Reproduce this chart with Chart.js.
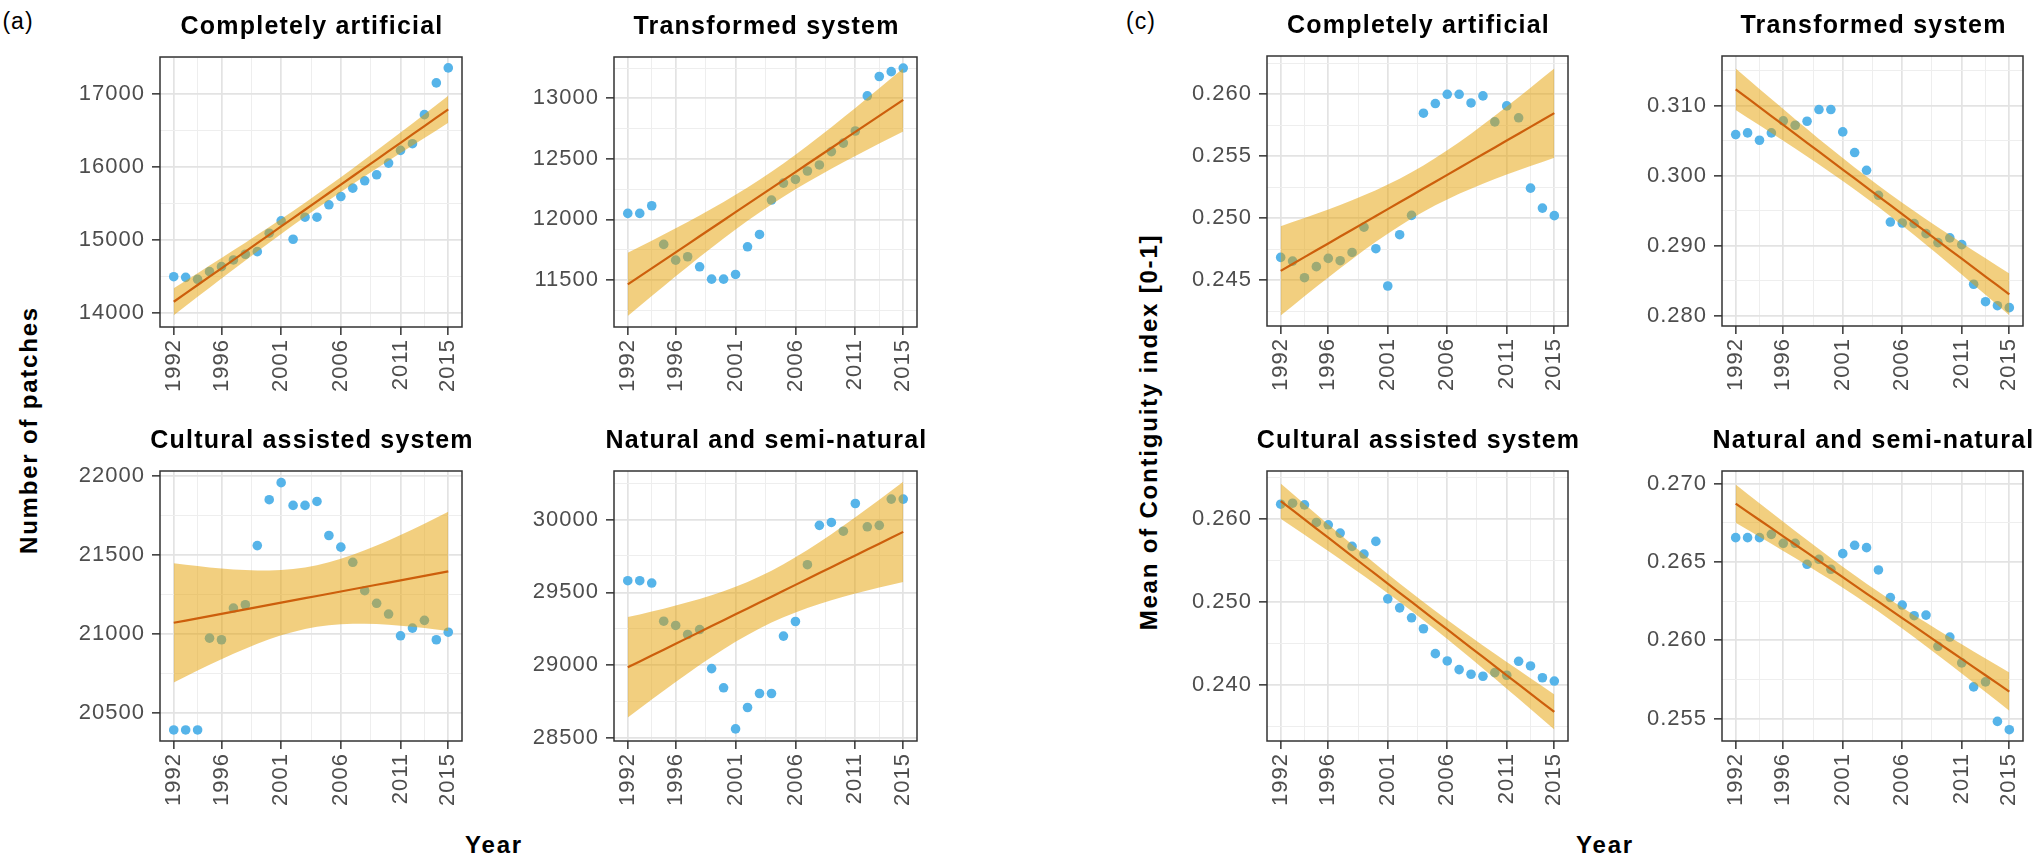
<!DOCTYPE html>
<html>
<head>
<meta charset="utf-8">
<script src="https://cdn.jsdelivr.net/npm/chart.js@4.4.1/dist/chart.umd.min.js"></script>
<style>
body{margin:0;width:2038px;height:860px;background:#fff;position:relative;overflow:hidden;font-family:"Liberation Sans",Arial,sans-serif}
canvas{position:absolute}
.lab{position:absolute;white-space:nowrap;transform:translate(-50%,-50%);color:#000;letter-spacing:1px}
.bold{font-weight:bold;font-size:24px;letter-spacing:1.8px}
</style>
</head>
<body>
<div class="lab" style="left:18px;top:21px;font-size:23px">(a)</div>
<div class="lab" style="left:1141px;top:21px;font-size:23px">(c)</div>
<div class="lab bold" style="left:29px;top:430px;transform:translate(-50%,-50%) rotate(-90deg)">Number of patches</div>
<div class="lab bold" style="left:1149px;top:432px;transform:translate(-50%,-50%) rotate(-90deg)">Mean of Contiguity index [0-1]</div>
<div class="lab bold" style="left:494px;top:845px">Year</div>
<div class="lab bold" style="left:1605px;top:845px">Year</div>

<script>
// ---- data ----
const years=[1992,1993,1994,1995,1996,1997,1998,1999,2000,2001,2002,2003,2004,2005,2006,2007,2008,2009,2010,2011,2012,2013,2014,2015];
const yearTicks=[1992,1996,2001,2006,2011,2015];

const artificialPatches=[14495,14486,14459,14564,14633,14725,14803,14839,15092,15261,15009,15312,15312,15482,15596,15711,15812,15894,16055,16229,16321,16720,17156,17362];
const transformedPatches=[12050,12050,12113,11794,11664,11692,11609,11507,11507,11546,11774,11876,12160,12300,12330,12400,12450,12560,12630,12730,13020,13180,13220,13250];
const culturalPatches=[20390,20390,20390,20972,20962,21163,21184,21559,21850,21958,21814,21814,21839,21623,21549,21453,21273,21193,21125,20987,21036,21085,20962,21010];
const naturalPatches=[29580,29580,29564,29302,29273,29211,29245,28977,28845,28563,28710,28806,28806,29200,29300,29690,29960,29980,29920,30110,29950,29960,30140,30140];

const artificialContig=[0.24683,0.24653,0.24519,0.24608,0.24675,0.24656,0.24723,0.24927,0.24753,0.24452,0.24866,0.25022,0.25847,0.25925,0.26000,0.26000,0.25930,0.25987,0.25777,0.25906,0.25810,0.25242,0.25081,0.25020];
const transformedContig=[0.30591,0.30615,0.30510,0.30615,0.30786,0.30724,0.30781,0.30948,0.30948,0.30629,0.30334,0.30081,0.29724,0.29342,0.29328,0.29319,0.29176,0.29048,0.29115,0.29019,0.28453,0.28204,0.28147,0.28119];
const culturalContig=[0.26180,0.26192,0.26172,0.25960,0.25932,0.25832,0.25672,0.25580,0.25732,0.25040,0.24932,0.24812,0.24680,0.24380,0.24292,0.24188,0.24132,0.24108,0.24152,0.24120,0.24288,0.24232,0.24090,0.24050];
const naturalContig=[0.26655,0.26655,0.26655,0.26676,0.26619,0.26619,0.26485,0.26517,0.26453,0.26553,0.26606,0.26591,0.26449,0.26273,0.26225,0.26157,0.26161,0.25962,0.26021,0.25856,0.25703,0.25735,0.25483,0.25430];

const artificialTicks=[14000,15000,16000,17000];
const transformedTicks=[11500,12000,12500,13000];
const culturalTicks=[20500,21000,21500,22000];
const naturalTicks=[28500,29000,29500,30000];
const artificialContigTicks=[0.245,0.250,0.255,0.260];
const transformedContigTicks=[0.280,0.290,0.300,0.310];
const culturalContigTicks=[0.240,0.250,0.260];
const naturalContigTicks=[0.255,0.260,0.265,0.270];

// ---- styling ----
const FONT='"Liberation Sans", Arial, sans-serif';
const POINT='#56B4E9', LINE='#CD5F0C', BAND='rgba(230,159,0,0.5)';
const xRange=[1990.85,2016.15];

const panels=[
  {title:'Completely artificial', y:artificialPatches, ticks:artificialTicks, range:[13804,17512], box:[160,57,302,270], dec:0},
  {title:'Transformed system', y:transformedPatches, ticks:transformedTicks, range:[11112,13341], box:[614,57,303,270], dec:0},
  {title:'Cultural assisted system', y:culturalPatches, ticks:culturalTicks, range:[20320,22032], box:[160,471,302,270], dec:0},
  {title:'Natural and semi-natural', y:naturalPatches, ticks:naturalTicks, range:[28480,30333], box:[614,471,303,270], dec:0},
  {title:'Completely artificial', y:artificialContig, ticks:artificialContigTicks, range:[0.24129,0.26309], box:[1267,56,301,270], dec:3},
  {title:'Transformed system', y:transformedContig, ticks:transformedContigTicks, range:[0.27857,0.31713], box:[1722,56,301,270], dec:3},
  {title:'Cultural assisted system', y:culturalContig, ticks:culturalContigTicks, range:[0.23328,0.2658], box:[1267,471,301,270], dec:3},
  {title:'Natural and semi-natural', y:naturalContig, ticks:naturalContigTicks, range:[0.25358,0.2708], box:[1722,471,301,270], dec:3}
];

// linear fit + 95% band, like geom_smooth(method="lm")
function lmBand(xs,ys){
  const n=xs.length;
  const mx=xs.reduce((a,b)=>a+b,0)/n, my=ys.reduce((a,b)=>a+b,0)/n;
  let sxx=0,sxy=0;
  xs.forEach((x,i)=>{sxx+=(x-mx)*(x-mx);sxy+=(x-mx)*(ys[i]-my);});
  const b=sxy/sxx, a=my-b*mx;
  let sse=0;
  xs.forEach((x,i)=>{const r=ys[i]-(a+b*x);sse+=r*r;});
  const s=Math.sqrt(sse/(n-2)), t=2.0739;
  return xs.map(x=>{
    const f=a+b*x, se=s*Math.sqrt(1/n+(x-mx)*(x-mx)/sxx);
    return {x,f,lo:f-t*se,hi:f+t*se};
  });
}

// majors + ggplot style minor breaks
function withMinor(majors,min,max){
  const out=majors.map(v=>({value:v}));
  for(let i=0;i<majors.length-1;i++) out.push({value:(majors[i]+majors[i+1])/2,minor:true});
  const k=majors.length;
  const before=majors[0]-(majors[1]-majors[0])/2;
  const after=majors[k-1]+(majors[k-1]-majors[k-2])/2;
  if(before>=min) out.push({value:before,minor:true});
  if(after<=max) out.push({value:after,minor:true});
  return out.sort((a,b)=>a.value-b.value);
}

const YW=110, XH=85, PT=57, PR=25;

function gridOpts(){
  return {
    color:c=>c.tick&&c.tick.minor?'#eeeeee':'#e3e3e3',
    lineWidth:c=>c.tick&&c.tick.minor?1:1.7,
    tickColor:c=>c.tick&&c.tick.minor?'rgba(0,0,0,0)':'#333',
    tickWidth:1.5,
    tickLength:8
  };
}

// the reference text runs a little wide
const spacing={
  id:'spacing',
  beforeInit(chart){chart.ctx.letterSpacing='1px';},
  beforeDraw(chart){chart.ctx.letterSpacing='1px';}
};

function makePanel(p,idx){
  const [l,t,w,h]=p.box;
  const cv=document.createElement('canvas');
  const W=w+YW+PR, H=h+PT+XH;
  cv.width=W; cv.height=H;
  cv.style.left=(l-YW)+'px'; cv.style.top=(t-PT)+'px';
  cv.style.width=W+'px'; cv.style.height=H+'px';
  document.body.appendChild(cv);

  const band=lmBand(years,p.y);
  const deco={
    id:'deco'+idx,
    afterDatasetsDraw(chart){
      const {ctx,chartArea:a}=chart;
      ctx.save();
      ctx.strokeStyle='#333'; ctx.lineWidth=1.5;
      ctx.strokeRect(a.left,a.top,a.right-a.left,a.bottom-a.top);
      ctx.fillStyle='#000';
      ctx.font='bold 25px '+FONT;
      ctx.letterSpacing='1.2px';
      ctx.textAlign='center'; ctx.textBaseline='middle';
      ctx.fillText(p.title,(a.left+a.right)/2+1,a.top-30);
      ctx.restore();
    }
  };

  new Chart(cv,{
    type:'line',
    data:{datasets:[
      {data:band.map(d=>({x:d.x,y:d.f})),borderColor:LINE,borderWidth:2.2,pointRadius:0,fill:false,order:1},
      {data:band.map(d=>({x:d.x,y:d.hi})),borderColor:'rgba(0,0,0,0)',borderWidth:0,pointRadius:0,backgroundColor:BAND,fill:'+1',order:2},
      {data:band.map(d=>({x:d.x,y:d.lo})),borderColor:'rgba(0,0,0,0)',borderWidth:0,pointRadius:0,fill:false,order:2},
      {data:years.map((x,i)=>({x,y:p.y[i]})),showLine:false,pointRadius:4.8,pointBackgroundColor:POINT,pointBorderWidth:0,order:3}
    ]},
    options:{
      responsive:false, animation:false, devicePixelRatio:1, events:[],
      layout:{padding:{top:PT,right:PR,left:0,bottom:0}},
      plugins:{legend:{display:false},tooltip:{enabled:false}},
      scales:{
        x:{
          type:'linear', min:xRange[0], max:xRange[1], bounds:'data',
          afterBuildTicks:s=>{s.ticks=withMinor(yearTicks,xRange[0],xRange[1]);},
          afterFit:s=>{s.height=XH;},
          border:{display:false},
          grid:gridOpts(),
          ticks:{autoSkip:false,minRotation:90,maxRotation:90,padding:4,color:'#4d4d4d',
            font:{family:FONT,size:22},
            callback:(v,i,ts)=>ts[i]&&ts[i].minor?'':String(v)}
        },
        y:{
          type:'linear', min:p.range[0], max:p.range[1], bounds:'data',
          afterBuildTicks:s=>{s.ticks=withMinor(p.ticks,p.range[0],p.range[1]);},
          afterFit:s=>{s.width=YW;},
          border:{display:false},
          grid:gridOpts(),
          ticks:{autoSkip:false,padding:7,color:'#4d4d4d',
            font:{family:FONT,size:22},
            callback:(v,i,ts)=>ts[i]&&ts[i].minor?'':v.toFixed(p.dec)}
        }
      }
    },
    plugins:[spacing,deco]
  });
}

panels.forEach(makePanel);
</script>
</body>
</html>
